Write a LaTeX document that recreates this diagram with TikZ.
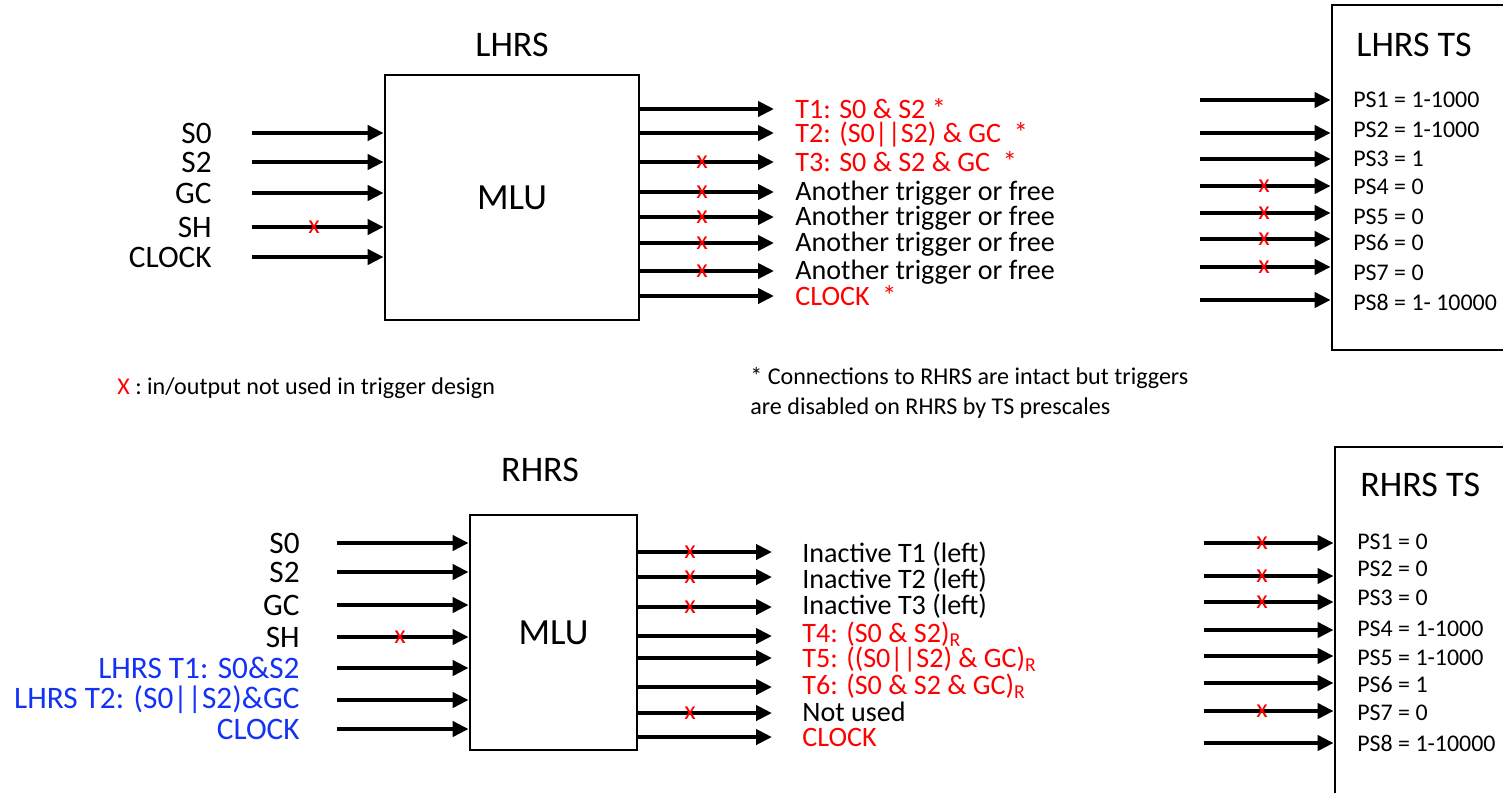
\documentclass[tikz,border=0pt]{standalone}
\usepackage{fontspec}
\setmainfont{Carlito}
\usepackage{tikz}
\usetikzlibrary{arrows.meta, positioning}
\usepackage{xcolor}
\definecolor{tred}{RGB}{255,0,0}
\definecolor{tblue}{RGB}{20,50,245}

\begin{document}
\begin{tikzpicture}[x=0.02cm, y=-0.02cm,
  mlu/.style={draw,line width=1.6pt,font=\fontsize{21}{24}\selectfont},
  tsbox/.style={draw,line width=1.6pt},
  sig/.style={-{Triangle[length=0.32cm,width=0.3cm]},line width=2.8pt},
  title/.style={font=\fontsize{20.5}{23}\selectfont,inner sep=0pt},
  inl/.style={font=\fontsize{17.8}{20}\selectfont,anchor=east,inner sep=0pt},
  outl/.style={font=\fontsize{16}{18}\selectfont,anchor=west,inner sep=0pt,text depth=0.1em},
  psl/.style={font=\fontsize{13.6}{15}\selectfont,anchor=west,inner sep=0pt},
  xm/.style={text=tred,font=\fontsize{15}{15}\selectfont,inner sep=0pt},
  note/.style={font=\fontsize{13.7}{17}\selectfont,anchor=west,align=left,inner sep=0pt}
]
\useasboundingbox (0,0) rectangle (1503,792);
\clip (0,0) rectangle (1503,792);

% LHRS
\node[title] (ltitle) at (512,45) {LHRS};
\node[mlu,minimum width=5.08cm,minimum height=4.9cm] (lhrs) at (512,197.5) {MLU};
\foreach \y/\t/\m [count=\i] in {133/S0/0,162/S2/0,193/GC/0,227/SH/1,257/CLOCK/0}{
  \coordinate (lin\i) at (252,\y);
  \draw[sig] (lin\i) -- (lin\i -| lhrs.west);
  \node[inl] (linl\i) at (212,\y) {\t};
  \ifnum\m=1 \node[xm] (linx\i) at (314,\y) {x}; \fi
}
\foreach \y/\c/\t/\m [count=\i] in {
  109/tred/{T1: S0 \& S2 *}/0,
  133/tred/{T2: (S0||S2) \& GC~~*}/0,
  162/tred/{T3: S0 \& S2 \& GC~~*}/1,
  192/black/{Another trigger or free}/1,
  217/black/{Another trigger or free}/1,
  243/black/{Another trigger or free}/1,
  271/black/{Another trigger or free}/1,
  296/tred/{CLOCK~~*}/0}{
  \coordinate (lout\i) at (774,\y);
  \draw[sig] (lout\i -| lhrs.east) -- (lout\i);
  \node[outl,text=\c] (loutl\i) at (795,\y) {\t};
  \ifnum\m=1 \node[xm] (loutx\i) at (702,\y) {x}; \fi
}

% LHRS TS
\node[tsbox,minimum width=4.56cm,minimum height=6.9cm] (lts) at (1446,177.5) {};
\node[title,anchor=west] (ltstitle) at (1356,45) {LHRS TS};
\foreach \y/\ly/\t/\m [count=\i] in {
  100/100/{PS1 = 1-1000}/0,
  133/130/{PS2 = 1-1000}/0,
  159/159/{PS3 = 1}/0,
  186/187/{PS4 = 0}/1,
  213/217/{PS5 = 0}/1,
  239/243/{PS6 = 0}/1,
  267/273/{PS7 = 0}/1,
  300/302/{PS8 = 1- 10000}/0}{
  \coordinate (lps\i) at (1200,\y);
  \draw[sig] (lps\i) -- (lps\i -| lts.west);
  \node[psl] (lpsl\i) at (1353,\ly) {\t};
  \ifnum\m=1 \node[xm] (lpsx\i) at (1264,\y) {x}; \fi
}

% notes
\node[note] (nx) at (117,388) {\textcolor{tred}{X} : in/output not used in trigger design};
\node[note] (nstar) at (750,393) {* Connections to RHRS are intact but triggers\\are disabled on RHRS by TS prescales};

% RHRS
\node[title] (rtitle) at (540,470) {RHRS};
\node[mlu,minimum width=3.34cm,minimum height=4.7cm] (rhrs) at (553.5,632.5) {MLU};
\foreach \y/\c/\t/\m [count=\i] in {
  543/black/S0/0,
  572/black/S2/0,
  605/black/GC/0,
  637/black/SH/1,
  668/tblue/{LHRS T1: S0\&S2}/0,
  700/tblue/{LHRS T2: (S0||S2)\&GC}/0,
  729/tblue/CLOCK/0}{
  \coordinate (rin\i) at (337,\y);
  \draw[sig] (rin\i) -- (rin\i -| rhrs.west);
  \node[inl,text=\c] (rinl\i) at (300,\y) {\t};
  \ifnum\m=1 \node[xm] (rinx\i) at (400,\y) {x}; \fi
}
\foreach \y/\ly/\c/\t/\m [count=\i] in {
  552/553/black/{Inactive T1 (left)}/1,
  577/579/black/{Inactive T2 (left)}/1,
  607/605/black/{Inactive T3 (left)}/1,
  636/633/tred/{T4: (S0 \& S2)\textsubscript{R}}/0,
  658/658/tred/{T5: ((S0||S2) \& GC)\textsubscript{R}}/0,
  687/685/tred/{T6: (S0 \& S2 \& GC)\textsubscript{R}}/0,
  713/713/black/{Not used}/1,
  737/738/tred/{CLOCK}/0}{
  \coordinate (rout\i) at (772,\y);
  \draw[sig] (rout\i -| rhrs.east) -- (rout\i);
  \node[outl,text=\c] (routl\i) at (802,\ly) {\t};
  \ifnum\m=1 \node[xm] (routx\i) at (690,\y) {x}; \fi
}

% RHRS TS
\node[tsbox,minimum width=4.5cm,minimum height=8.06cm] (rts) at (1447.5,648.5) {};
\node[title,anchor=west] (rtstitle) at (1360,485) {RHRS TS};
\foreach \y/\ly/\t/\m [count=\i] in {
  543/542/{PS1 = 0}/1,
  576/569/{PS2 = 0}/1,
  602/598/{PS3 = 0}/1,
  630/629/{PS4 = 1-1000}/0,
  656/658/{PS5 = 1-1000}/0,
  683/685/{PS6 = 1}/0,
  711/713/{PS7 = 0}/1,
  743/743/{PS8 = 1-10000}/0}{
  \coordinate (rps\i) at (1204,\y);
  \draw[sig] (rps\i) -- (rps\i -| rts.west);
  \node[psl] (rpsl\i) at (1357,\ly) {\t};
  \ifnum\m=1 \node[xm] (rpsx\i) at (1262,\y) {x}; \fi
}
\end{tikzpicture}
\end{document}
